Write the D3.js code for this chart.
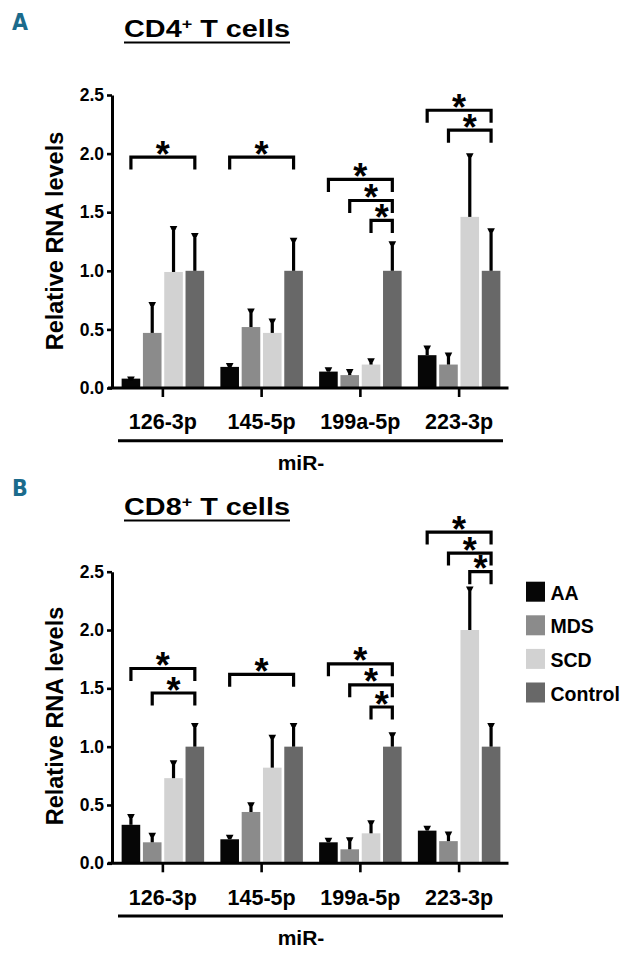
<!DOCTYPE html>
<html>
<head>
<meta charset="utf-8">
<script src="https://cdn.jsdelivr.net/npm/d3@7"></script>
<style>
  html, body { margin: 0; padding: 0; background: #fff; }
  svg { display: block; }
  text { font-family: "Liberation Sans", Arial, sans-serif; font-weight: bold; fill: #000; }
</style>
</head>
<body>
<svg id="chart" width="632" height="962"></svg>
<script>
// ---------------- DATA ----------------
const categories = ["126-3p", "145-5p", "199a-5p", "223-3p"];
const groups = ["AA", "MDS", "SCD", "Control"];
const groupColors = ["#060606", "#8b8b8b", "#d2d2d2", "#686868"];
const yTicks = [0, 0.5, 1.0, 1.5, 2.0, 2.5];

// CD4+ T cells: means [category][group] and SEM (upper error)
const cd4Means = [
  [0.08, 0.47, 0.99, 1.00],
  [0.18, 0.52, 0.47, 1.00],
  [0.14, 0.11, 0.20, 1.00],
  [0.28, 0.20, 1.46, 1.00]
];
const cd4Errors = [
  [0.005, 0.25, 0.38, 0.31],
  [0.02, 0.145, 0.11, 0.27],
  [0.025, 0.04, 0.04, 0.24],
  [0.07, 0.09, 0.53, 0.35]
];
// significance brackets: [category index, from group index, bracket level]; all end at Control
const cd4Brackets = [
  [0, 0, 1.97], [1, 0, 1.97],
  [2, 0, 1.78], [2, 1, 1.60], [2, 2, 1.43],
  [3, 0, 2.37], [3, 1, 2.20]
];

// CD8+ T cells
const cd8Means = [
  [0.33, 0.18, 0.73, 1.00],
  [0.206, 0.44, 0.82, 1.00],
  [0.18, 0.12, 0.257, 1.00],
  [0.28, 0.19, 2.00, 1.00]
];
const cd8Errors = [
  [0.08, 0.07, 0.14, 0.19],
  [0.025, 0.07, 0.27, 0.19],
  [0.026, 0.09, 0.10, 0.11],
  [0.03, 0.07, 0.36, 0.19]
];
const cd8Brackets = [
  [0, 0, 1.67], [0, 1, 1.46],
  [1, 0, 1.62],
  [2, 0, 1.71], [2, 1, 1.53], [2, 2, 1.34],
  [3, 0, 2.84], [3, 1, 2.66], [3, 2, 2.50]
];

// ---------------- DRAW ----------------
const svg = d3.select("#chart");

const x = d3.scaleBand().domain(categories).range([113.5, 508.5]).padding(0);
const xi = d3.scaleBand().domain(groups).range([-41.25, 41.25]).paddingInner(0.127).paddingOuter(0);

function panel(opts) {
  const { letter, letterY, title, titleY, y0, y25, means, errors, brackets, labelCenter, labelX } = opts;
  const y = d3.scaleLinear().domain([0, 2.5]).range([y0, y25]);
  const g = svg.append("g");

  // panel letter
  g.append("text")
    .attr("x", 12).attr("y", letterY)
    .style("font-family", "'DejaVu Sans Condensed', 'DejaVu Sans', sans-serif")
    .style("font-size", "23px")
    .style("fill", "#1b6b8c")
    .text(letter);

  // title with superscript + underline
  const tg = g.append("g").attr("transform", `translate(124,${titleY})`);
  const tt = tg.append("text").style("font-size", "24px");
  tt.append("tspan").text(title[0]);
  tt.append("tspan").attr("dy", -8).style("font-size", "15px").text("+");
  tt.append("tspan").attr("dy", 8).text(title[1]);
  const natural = tt.node().getComputedTextLength();
  const sx = 166 / natural;
  tt.attr("transform", `scale(${sx},1)`);
  tg.append("line")
    .attr("x1", 0).attr("x2", 166)
    .attr("y1", 5.5).attr("y2", 5.5)
    .attr("stroke", "#000").attr("stroke-width", 2.2);

  // bars
  categories.forEach((c, ci) => {
    const cx = x(c) + x.bandwidth() / 2;
    groups.forEach((gr, gi) => {
      const v = means[ci][gi];
      const bx = cx + xi(gr);
      g.append("rect")
        .attr("x", bx).attr("width", xi.bandwidth())
        .attr("y", y(v)).attr("height", y(0) - y(v))
        .attr("fill", groupColors[gi]);
      const ex = bx + xi.bandwidth() / 2;
      const up = v + errors[ci][gi];
      g.append("line")
        .attr("x1", ex).attr("x2", ex)
        .attr("y1", y(v)).attr("y2", y(up))
        .attr("stroke", "#000").attr("stroke-width", 3.2);
      g.append("path")
        .attr("d", `M${ex - 3.8},${y(up) - 1.5} L${ex + 3.8},${y(up) - 1.5} L${ex + 1.8},${y(up) + 2.5} L${ex - 1.8},${y(up) + 2.5} Z`)
        .attr("fill", "#000");
    });
  });

  // y axis
  const ya = g.append("g").attr("transform", "translate(112,0)")
    .call(d3.axisLeft(y).tickValues(yTicks).tickFormat(d3.format(".1f")).tickSizeInner(5).tickSizeOuter(0).tickPadding(3));
  ya.select(".domain").attr("stroke", "#000").attr("stroke-width", 3);
  ya.selectAll(".tick line").attr("stroke", "#000").attr("stroke-width", 2.6);
  ya.selectAll(".tick text")
    .style("font-family", "'Liberation Sans', Arial, sans-serif")
    .style("font-weight", "bold").style("font-size", "17.5px").attr("fill", "#000");

  // x axis
  const xa = g.append("g").attr("transform", `translate(0,${y0})`)
    .call(d3.axisBottom(x).tickSizeInner(9).tickSizeOuter(0).tickPadding(17));
  xa.select(".domain").attr("stroke", "#000").attr("stroke-width", 3)
    .attr("d", `M108,0H508.5`);
  xa.selectAll(".tick line").attr("stroke", "#000").attr("stroke-width", 2.6);
  xa.selectAll(".tick text")
    .style("font-family", "'Liberation Sans', Arial, sans-serif")
    .style("font-weight", "bold").style("font-size", "21.5px").attr("fill", "#000");

  // group underline & miR- label
  g.append("line")
    .attr("x1", 118).attr("x2", 503)
    .attr("y1", y0 + 52.7).attr("y2", y0 + 52.7)
    .attr("stroke", "#000").attr("stroke-width", 3);
  g.append("text")
    .attr("x", 301).attr("y", y0 + 82)
    .attr("text-anchor", "middle")
    .style("font-size", "21px")
    .text("miR-");

  // y label
  g.append("text")
    .attr("transform", `translate(${labelX},${labelCenter}) rotate(-90)`)
    .attr("text-anchor", "middle")
    .style("font-size", "23.5px")
    .text("Relative RNA levels");

  // brackets with asterisks
  brackets.forEach(([ci, gi, level]) => {
    const cx = x(categories[ci]) + x.bandwidth() / 2;
    const x1 = cx + xi(groups[gi]) + xi.bandwidth() / 2;
    const x2 = cx + xi(groups[3]) + xi.bandwidth() / 2;
    const yl = y(level);
    g.append("path")
      .attr("d", `M${x1},${yl + 12.5}V${yl}H${x2}V${yl + 12.5}`)
      .attr("fill", "none").attr("stroke", "#000").attr("stroke-width", 3.2);
    g.append("text")
      .attr("x", (x1 + x2) / 2).attr("y", yl + 9.5)
      .attr("text-anchor", "middle")
      .style("font-size", "36px")
      .text("*");
  });
}

panel({
  letter: "A", letterY: 30, title: ["CD4", " T cells"], titleY: 37,
  y0: 388, y25: 95, means: cd4Means, errors: cd4Errors, brackets: cd4Brackets,
  labelCenter: 241, labelX: 63
});
panel({
  letter: "B", letterY: 496, title: ["CD8", " T cells"], titleY: 515,
  y0: 863.3, y25: 571.7, means: cd8Means, errors: cd8Errors, brackets: cd8Brackets,
  labelCenter: 716, labelX: 63
});

// legend
const legend = svg.append("g");
groups.forEach((gr, i) => {
  const ly = 581.7 + i * 33.6;
  legend.append("rect")
    .attr("x", 526).attr("y", ly).attr("width", 19).attr("height", 20)
    .attr("fill", groupColors[i]);
  legend.append("text")
    .attr("x", 550.5).attr("y", ly + 18)
    .style("font-size", "19.5px")
    .text(gr);
});
</script>
</body>
</html>
